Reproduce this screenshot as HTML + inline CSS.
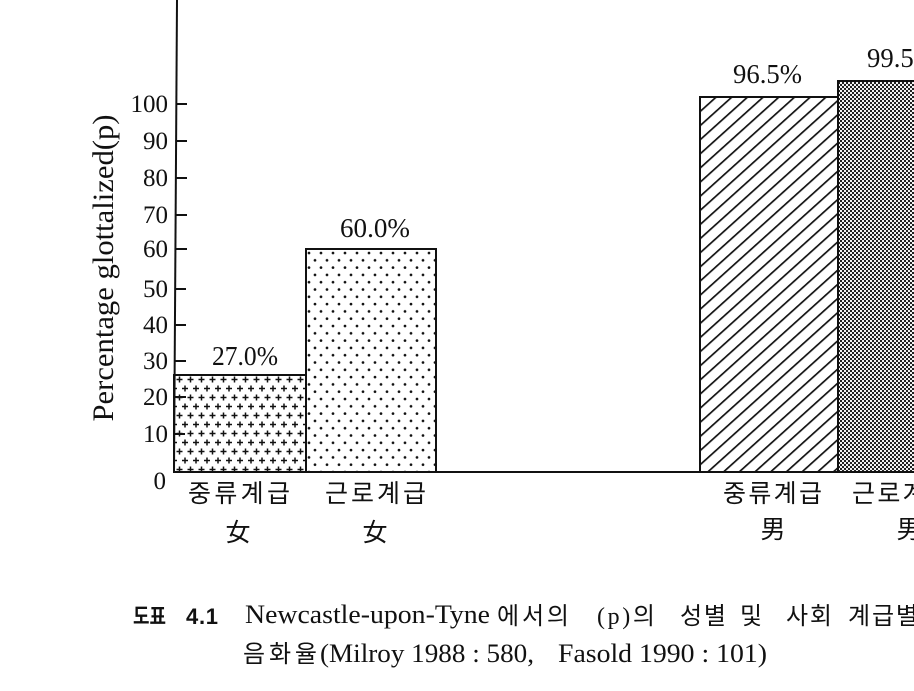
<!DOCTYPE html>
<html>
<head>
<meta charset="utf-8">
<style>
  html, body { margin:0; padding:0; background:#ffffff; }
  svg { display:block; }
  .num { font-family: "Liberation Serif", serif; fill:#111; }
  .kr { font-family: "Noto Sans CJK KR", "Noto Sans CJK SC", sans-serif; fill:#111; }
  .mix { font-family: "Liberation Serif", "Noto Sans CJK KR", serif; fill:#111; }
</style>
</head>
<body>
<svg width="914" height="691" viewBox="0 0 914 691" xmlns="http://www.w3.org/2000/svg">
  <defs>
    <pattern id="plus" patternUnits="userSpaceOnUse" x="174" y="375" width="11" height="18">
      <path d="M2.5 4.5 H8.5 M5.5 1.5 V7.5" stroke="#111" stroke-width="1.5"/>
      <path d="M-3 13.5 H3 M0 10.5 V16.5 M8 13.5 H14 M11 10.5 V16.5" stroke="#111" stroke-width="1.5"/>
    </pattern>
    <pattern id="dots" patternUnits="userSpaceOnUse" x="306" y="249" width="12" height="14.6">
      <circle cx="3" cy="4" r="1.35" fill="#111"/>
      <circle cx="9" cy="11.3" r="1.35" fill="#111"/>
    </pattern>
    <pattern id="hatch" patternUnits="userSpaceOnUse" width="10.5" height="20" patternTransform="rotate(48)">
      <rect x="4.5" y="0" width="1.7" height="20" fill="#111"/>
    </pattern>
    <pattern id="checker" patternUnits="userSpaceOnUse" width="4" height="4">
      <rect x="0" y="0" width="4" height="4" fill="#f2f2f2"/>
      <rect x="0" y="0" width="2" height="2" fill="#222"/>
      <rect x="2" y="2" width="2" height="2" fill="#222"/>
    </pattern>
  </defs>

  <!-- Bars -->
  <rect x="174" y="375" width="132" height="97" fill="url(#plus)" stroke="#111" stroke-width="2"/>
  <rect x="306" y="249" width="130" height="223" fill="url(#dots)" stroke="#111" stroke-width="2"/>
  <rect x="700" y="97" width="138" height="375" fill="url(#hatch)" stroke="#111" stroke-width="2"/>
  <rect x="838" y="81" width="80" height="391" fill="url(#checker)" stroke="#111" stroke-width="2"/>

  <!-- Axes -->
  <line x1="177" y1="0" x2="174" y2="472" stroke="#111" stroke-width="2"/>
  <line x1="173" y1="472" x2="914" y2="472" stroke="#111" stroke-width="2"/>

  <!-- Ticks -->
  <g stroke="#111" stroke-width="2">
    <line x1="176" y1="104" x2="187" y2="104"/>
    <line x1="176" y1="141" x2="187" y2="141"/>
    <line x1="176" y1="178" x2="187" y2="178"/>
    <line x1="176" y1="215" x2="187" y2="215"/>
    <line x1="176" y1="249" x2="187" y2="249"/>
    <line x1="175" y1="289" x2="186" y2="289"/>
    <line x1="175" y1="325" x2="186" y2="325"/>
    <line x1="175" y1="361" x2="186" y2="361"/>
    <line x1="175" y1="397" x2="186" y2="397"/>
    <line x1="174" y1="434" x2="185" y2="434"/>
  </g>

  <!-- Tick labels -->
  <g class="num" font-size="25" text-anchor="end">
    <text x="168" y="112">100</text>
    <text x="168" y="149">90</text>
    <text x="168" y="186">80</text>
    <text x="168" y="223">70</text>
    <text x="168" y="257">60</text>
    <text x="168" y="297">50</text>
    <text x="168" y="333">40</text>
    <text x="168" y="369">30</text>
    <text x="168" y="405">20</text>
    <text x="168" y="442">10</text>
    <text x="166" y="489">0</text>
  </g>

  <!-- Y axis title -->
  <text class="num" font-size="30" transform="rotate(-90)" x="-268" y="113" text-anchor="middle" textLength="307" lengthAdjust="spacingAndGlyphs">Percentage glottalized(p)</text>

  <!-- Value labels -->
  <text class="num" font-size="27" x="212" y="365" textLength="66" lengthAdjust="spacingAndGlyphs">27.0%</text>
  <text class="num" font-size="27" x="340" y="237" textLength="70" lengthAdjust="spacingAndGlyphs">60.0%</text>
  <text class="num" font-size="27" x="733" y="83" textLength="69" lengthAdjust="spacingAndGlyphs">96.5%</text>
  <text class="num" font-size="27" x="867" y="67" textLength="69" lengthAdjust="spacingAndGlyphs">99.5%</text>

  <!-- Category labels -->
  <text class="kr" font-size="25" x="188" y="502" textLength="102" lengthAdjust="spacing">중류계급</text>
  <text class="kr" font-size="25" x="325" y="502" textLength="101" lengthAdjust="spacing">근로계급</text>
  <text class="kr" font-size="25" x="238" y="541" text-anchor="middle">女</text>
  <text class="kr" font-size="25" x="375" y="541" text-anchor="middle">女</text>

  <text class="kr" font-size="25" x="723" y="502" textLength="99" lengthAdjust="spacing">중류계급</text>
  <text class="kr" font-size="25" x="852" y="502" textLength="99" lengthAdjust="spacing">근로계급</text>
  <text class="kr" font-size="25" x="773" y="538" text-anchor="middle">男</text>
  <text class="kr" font-size="25" x="909" y="538" text-anchor="middle">男</text>

  <!-- Caption line 1 -->
  <text font-family="'Noto Sans CJK KR', sans-serif" font-weight="bold" font-size="22" fill="#111" x="133" y="624" textLength="33" lengthAdjust="spacingAndGlyphs">도표</text>
  <text font-family="'Liberation Sans', sans-serif" font-weight="bold" font-size="22" fill="#111" x="186" y="624" textLength="32" lengthAdjust="spacing">4.1</text>
  <text class="num" font-size="26" x="245" y="623" textLength="245" lengthAdjust="spacingAndGlyphs">Newcastle-upon-Tyne</text>
  <text class="kr" font-size="24" x="497" y="624" textLength="72" lengthAdjust="spacing">에서의</text>
  <text class="mix" font-size="24" x="597" y="624" textLength="58" lengthAdjust="spacing">(p)의</text>
  <text class="kr" font-size="24" x="680" y="624" textLength="46" lengthAdjust="spacing">성별</text>
  <text class="kr" font-size="24" x="740" y="624">및</text>
  <text class="kr" font-size="24" x="786" y="624" textLength="46" lengthAdjust="spacing">사회</text>
  <text class="kr" font-size="24" x="848" y="624" textLength="70" lengthAdjust="spacing">계급별</text>

  <!-- Caption line 2 -->
  <text class="kr" font-size="24" x="243" y="662" textLength="74" lengthAdjust="spacing">음화율</text>
  <text class="num" font-size="26" x="320" y="662" textLength="214" lengthAdjust="spacingAndGlyphs">(Milroy 1988 : 580,</text>
  <text class="num" font-size="26" x="558" y="662" textLength="209" lengthAdjust="spacingAndGlyphs">Fasold 1990 : 101)</text>
</svg>
</body>
</html>
